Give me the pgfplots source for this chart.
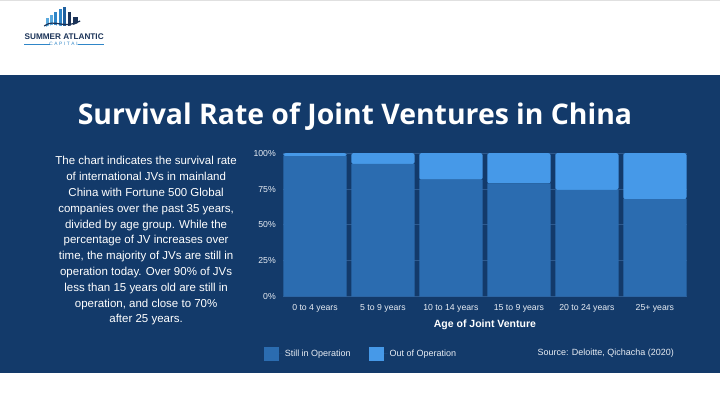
\documentclass[border=0pt]{standalone}
\usepackage{pgfplots}
\pgfplotsset{compat=1.18}
\usepackage{fontspec}
\setmainfont{Liberation Sans}
\newfontfamily\titlefont{Open Sans}
\definecolor{bg}{HTML}{133A6A}
\definecolor{still}{HTML}{2B6CB0}
\definecolor{outc}{HTML}{4699E8}
\definecolor{gridc}{HTML}{2E5A8E}
\definecolor{navy}{HTML}{1B3358}
\definecolor{txt}{HTML}{E8EDF4}
\definecolor{lb1}{HTML}{5AA9DD}
\definecolor{lb2}{HTML}{2F86C8}
\definecolor{lb3}{HTML}{1E5F9E}
\begin{document}
\begin{tikzpicture}
\begin{scope}[x=1pt,y=1pt]
\fill[white] (0,0) rectangle (720,404);
\draw[black!12] (0,403.5)--(720,403.5);
\fill[bg] (0,30.4) rectangle (720,328.5);
% logo
\fill[lb1] (46,377) rectangle (49,386);
\fill[lb1] (50,377) rectangle (53,389);
\fill[lb2] (54,377) rectangle (57,392);
\fill[lb2] (59,377) rectangle (62,395);
\fill[lb3] (63,377) rectangle (66,397);
\fill[navy] (68,377) rectangle (71,392);
\fill[navy] (73,377) rectangle (78,387);
\fill[white] (44,376) .. controls (55,384) and (62,372) .. (80,382) -- (80,376) -- cycle;
\draw[navy, line width=1.2pt] (44,378) .. controls (55,386) and (62,374) .. (80,383);
\node[text=navy, font=\bfseries\fontsize{8.2}{9}\selectfont, inner sep=0] at (64,367.3) {SUMMER ATLANTIC};
\node[text=lb2, font=\fontsize{4.8}{5}\selectfont, inner sep=0] at (64,360) {C\,\,A\,\,P\,\,I\,\,T\,\,A\,\,L};
\draw[lb2, line width=0.4pt] (24,360)--(50,360) (78,360)--(104,360);
% title
\node[text=white, font=\titlefont\bfseries\fontsize{28.4}{32}\selectfont, inner sep=0, anchor=base] at (355,279.7) {Survival Rate of Joint Ventures in China};
% paragraph
\node[text=white, align=center, font=\fontsize{11.5}{15.8}\selectfont, anchor=north, inner sep=0] at (146,247.5) {The chart indicates the survival rate\\ of international JVs in mainland\\ China with Fortune 500 Global\\ companies over the past 35 years,\\ divided by age group. While the\\ percentage of JV increases over\\ time, the majority of JVs are still in\\ operation today. Over 90\% of JVs\\ less than 15 years old are still in\\ operation, and close to 70\%\\ after 25 years.};
% source
\node[text=txt, font=\fontsize{9}{10}\selectfont, anchor=east, inner sep=0] at (674.3,50.5) {Source: Deloitte, Qichacha (2020)};
\end{scope}
\begin{axis}[
  at={(283.3pt,107.3pt)}, anchor=south west,
  scale only axis, width=403.4pt, height=143.4pt,
  ybar stacked, bar width=63.3pt,
  xmin=-0.4654, xmax=5.4654, ymin=0, ymax=100,
  xtick=data,
  xticklabels={0 to 4 years,5 to 9 years,10 to 14 years,15 to 9 years,20 to 24 years,25+ years},
  ytick={0,25,50,75,100},
  yticklabel={\pgfmathprintnumber{\tick}\%},
  /pgf/number format/assume math mode=true,
  ymajorgrids, grid style={gridc, line width=0.8pt},
  axis line style={draw=none}, major tick style={draw=none},
  tick label style={text=txt, font=\fontsize{8.7}{10}\selectfont},
  xticklabel style={yshift=-4.5pt},
  yticklabel style={xshift=-4pt},
  xlabel={Age of Joint Venture},
  xlabel style={text=white, font=\bfseries\fontsize{10.5}{12}\selectfont, yshift=-1pt},
  legend columns=2,
  legend style={at={(-0.0478,-0.398)}, anchor=west, draw=none, fill=none, inner sep=0pt,
    text=txt, font=\fontsize{9}{10}\selectfont,
    /tikz/every even column/.append style={column sep=16.5pt}},
  legend image code/.code={\fill[#1, sharp corners] (0pt,-7pt) rectangle (15pt,7pt); \path (0pt,0pt) -- (18.5pt,0pt);},
]
\addplot[fill=still, draw=none] coordinates {(0,98) (1,92.5) (2,81.5) (3,79) (4,74.5) (5,68)};
\addlegendentry{Still in Operation}
\addplot[fill=outc, draw=none, rounded corners=2pt] coordinates {(0,2) (1,7.5) (2,18.5) (3,21) (4,25.5) (5,32)};
\addlegendentry{Out of Operation}
\end{axis}
\end{tikzpicture}
\end{document}
